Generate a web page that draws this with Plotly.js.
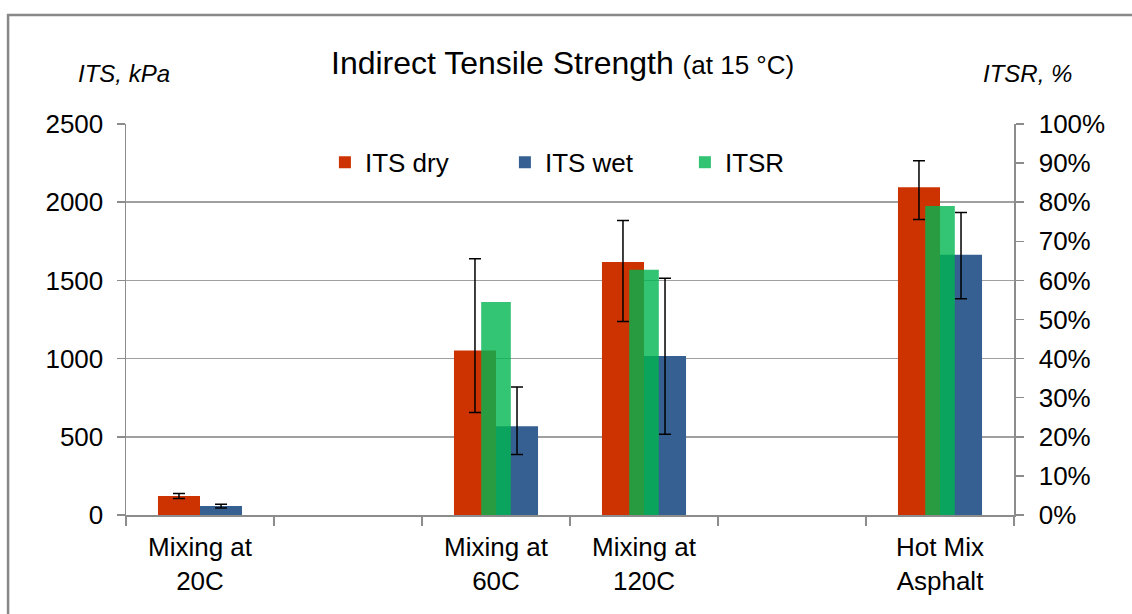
<!DOCTYPE html>
<html>
<head>
<meta charset="utf-8">
<script src="https://cdn.plot.ly/plotly-3.0.1.min.js"></script>
<style>
  html, body { margin: 0; padding: 0; background: #fff; }
  #chart { width: 1132px; height: 614px; }
</style>
</head>
<body>
<div id="chart"></div>
<script>
// ---- data ----
const categories = ['Mixing at<br>20C', '', 'Mixing at<br>60C', 'Mixing at<br>120C', '', 'Hot Mix<br>Asphalt'];
const itsDry      = [121, null, 1051, 1617, null, 2095];
const itsDryErrUp = [16,  null, 587,  266,  null, 170];
const itsDryErrDn = [16,  null, 396,  379,  null, 206];
const itsWet      = [57,  null, 568,  1017, null, 1664];
const itsWetErrUp = [12,  null, 251,  497,  null, 270];
const itsWetErrDn = [12,  null, 181,  500,  null, 281];
const itsr        = [null, null, 0.545, 0.627, null, 0.79];
const leftTicks   = [0, 500, 1000, 1500, 2000, 2500];

const xIdx = categories.map((_, i) => i);
const FONT = 'Liberation Sans, Arial, sans-serif';
const AXIS_COLOR = '#8c8c8c';

const barW = 0.284;
const errStyle = { color: '#000', thickness: 1.5, width: 6 };

const traces = [
  {
    type: 'bar', name: 'ITS dry', x: xIdx, y: itsDry,
    width: barW, offset: -barW,
    marker: { color: '#cc3300' },
    error_y: Object.assign({ type: 'data', symmetric: false, array: itsDryErrUp, arrayminus: itsDryErrDn }, errStyle),
    xaxis: 'x', yaxis: 'y'
  },
  {
    type: 'bar', name: 'ITS wet', x: xIdx, y: itsWet,
    width: barW, offset: 0,
    marker: { color: '#366092' },
    error_y: Object.assign({ type: 'data', symmetric: false, array: itsWetErrUp, arrayminus: itsWetErrDn }, errStyle),
    xaxis: 'x', yaxis: 'y'
  },
  {
    type: 'bar', name: 'ITSR', x: xIdx, y: itsr,
    width: 0.2,
    marker: { color: 'rgb(0,181,81)' }, opacity: 0.8,
    xaxis: 'x', yaxis: 'y2'
  }
];

const layout = {
  width: 1132, height: 614,
  margin: { l: 126, r: 117.5, t: 123.5, b: 99 },
  paper_bgcolor: '#fff', plot_bgcolor: '#fff',
  font: { family: FONT, size: 26, color: '#000' },
  barmode: 'overlay',
  showlegend: true,
  legend: {
    orientation: 'h', x: 0.224, xanchor: 'left', y: 0.902, yanchor: 'middle',
    font: { family: FONT, size: 26, color: '#000' },
    entrywidth: 135, entrywidthmode: 'pixels',
    bgcolor: 'rgba(0,0,0,0)', traceorder: 'normal'
  },
  xaxis: {
    type: 'linear', range: [-0.5, 5.5],
    tickmode: 'array', tickvals: xIdx, ticktext: categories,
    ticks: '', showgrid: false, zeroline: false,
    showline: true, linecolor: AXIS_COLOR, linewidth: 1.5,
    ticklabelstandoff: 8,
    tickfont: { family: FONT, size: 26, color: '#000' },
    minor: { tickmode: 'linear', tick0: 0.5, dtick: 1, ticks: 'outside', ticklen: 9, tickcolor: AXIS_COLOR, tickwidth: 1.5, showgrid: false },
    fixedrange: true
  },
  yaxis: {
    range: [0, 2500], tickmode: 'array', tickvals: leftTicks,
    ticks: 'outside', ticklen: 8, tickcolor: AXIS_COLOR, tickwidth: 1.5,
    showline: true, linecolor: AXIS_COLOR, linewidth: 1.5,
    showgrid: true, gridcolor: '#a0a0a0', gridwidth: 1.5,
    zeroline: false, ticklabelstandoff: 8,
    tickfont: { family: FONT, size: 26, color: '#000' }
  },
  yaxis2: {
    range: [0, 1], overlaying: 'y', side: 'right', dtick: 0.1, tick0: 0,
    tickformat: '.0%',
    ticks: 'outside', ticklen: 8, tickcolor: AXIS_COLOR, tickwidth: 1.5,
    showline: true, linecolor: AXIS_COLOR, linewidth: 1.5,
    showgrid: false, zeroline: false, ticklabelstandoff: 10,
    tickfont: { family: FONT, size: 26, color: '#000' }
  },
  annotations: [
    {
      xref: 'paper', yref: 'paper', x: 0.491, y: 1.157, xanchor: 'center', yanchor: 'middle',
      showarrow: false,
      text: 'Indirect Tensile Strength <span style="font-size:26px">(at 15 °C)</span>',
      font: { family: FONT, size: 32, color: '#000' }
    },
    {
      xref: 'paper', yref: 'paper', x: -0.002, y: 1.13, xanchor: 'center', yanchor: 'middle',
      showarrow: false, text: '<i>ITS, kPa</i>',
      font: { family: FONT, size: 24, color: '#000' }
    },
    {
      xref: 'paper', yref: 'paper', x: 1.015, y: 1.13, xanchor: 'center', yanchor: 'middle',
      showarrow: false, text: '<i>ITSR, %</i>',
      font: { family: FONT, size: 24, color: '#000' }
    }
  ],
  shapes: [
    {
      type: 'rect', xref: 'paper', yref: 'paper',
      x0: -0.1328, x1: 1.3, y0: -0.4, y1: 1.2785,
      line: { color: '#888888', width: 2.5 }, fillcolor: 'rgba(0,0,0,0)', layer: 'below'
    }
  ]
};

Plotly.newPlot('chart', traces, layout, { displayModeBar: false, staticPlot: true });
</script>
</body>
</html>
